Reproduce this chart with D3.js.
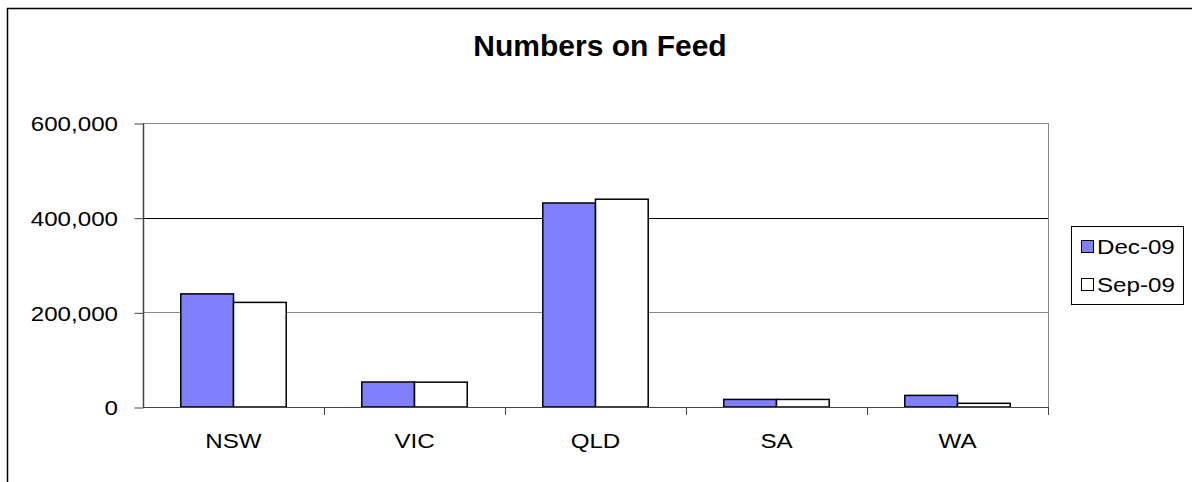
<!DOCTYPE html>
<html><head><meta charset="utf-8">
<script src="https://cdn.jsdelivr.net/npm/d3@7"></script>
<style>
html,body{margin:0;padding:0;background:#fff;overflow:hidden;}
svg{display:block;font-family:"Liberation Sans",Arial,sans-serif;}
</style></head>
<body>
<svg id="chart" width="1192" height="482"></svg>
<script>
const categories = ["NSW", "VIC", "QLD", "SA", "WA"];
const seriesNames = ["Dec-09", "Sep-09"];
const dec09 = [239000, 52800, 431000, 16000, 24500];
const sep09 = [221000, 52500, 439000, 16000, 7800];
const yTicks = [0, 200000, 400000, 600000];
const seriesColors = ["#8080FF", "#FFFFFF"];

const svg = d3.select("#chart");
const plot = {left: 143, right: 1048, top: 123, bottom: 407};
const SX = 1.15; // horizontal stretch of the original's text

// outer chart border: only top and left edges are visible
svg.append("path").attr("d", "M7.5,482V8.5H1192").attr("fill", "none")
  .attr("stroke", "#000").attr("stroke-width", 1.5);

svg.append("text").attr("x", 600).attr("y", 56).attr("text-anchor", "middle")
  .attr("font-size", 30).attr("font-weight", "bold").text("Numbers on Feed");

const y = d3.scaleLinear().domain([0, 600000]).range([plot.bottom, plot.top]);
const x0 = d3.scaleBand().domain(categories).range([plot.left, plot.right]).padding(0);
const x1 = d3.scaleBand().domain(seriesNames).range([0, x0.bandwidth()]).paddingInner(0).paddingOuter(0.717);

// gridlines
svg.append("g").selectAll("line").data(yTicks.filter(d => d > 0)).join("line")
  .attr("x1", plot.left).attr("x2", plot.right)
  .attr("y1", d => Math.round(y(d)) + 0.5).attr("y2", d => Math.round(y(d)) + 0.5)
  .attr("stroke", d => d === 400000 ? "#000" : "#888").attr("stroke-width", 1);

// plot right border
svg.append("line").attr("x1", plot.right + 0.5).attr("x2", plot.right + 0.5)
  .attr("y1", plot.top).attr("y2", plot.bottom).attr("stroke", "#888");

// y axis
const yAxis = d3.axisLeft(y).tickValues(yTicks).tickSize(9).tickPadding(16)
  .tickFormat(d3.format(","));
const gy = svg.append("g").attr("transform", `translate(${plot.left + 0.5},0.5)`).call(yAxis);
gy.select(".domain").attr("stroke", "#444").attr("stroke-width", 1.5).attr("d", `M0,${plot.top}V${plot.bottom}`);
gy.selectAll(".tick line").attr("stroke", "#444");
gy.selectAll(".tick text").attr("font-size", 21).attr("fill", "#000")
  .attr("font-family", "Liberation Sans, Arial, sans-serif").attr("dy", "0.35em")
  .attr("x", 0).attr("transform", `translate(-25.5,0) scale(${SX},1)`);

// bars
const data = categories.map((c, i) => ({cat: c, vals: [dec09[i], sep09[i]]}));
const groups = svg.append("g").selectAll("g").data(data).join("g")
  .attr("transform", d => `translate(${x0(d.cat)},0)`);
groups.selectAll("rect").data(d => d.vals.map((v, j) => ({s: seriesNames[j], v, j}))).join("rect")
  .attr("x", d => x1(d.s)).attr("y", d => y(d.v))
  .attr("width", x1.bandwidth()).attr("height", d => y(0) - y(d.v))
  .attr("fill", d => seriesColors[d.j]).attr("stroke", "#000").attr("stroke-width", 1.5);

// x axis
const xAxis = d3.axisBottom(x0).tickSize(0).tickPadding(26);
const gx = svg.append("g").attr("transform", `translate(0,${plot.bottom + 0.5})`).call(xAxis);
gx.select(".domain").attr("stroke", "#444").attr("stroke-width", 1.2).attr("d", `M${plot.left},0H${plot.right}`);
gx.selectAll(".tick text").attr("font-size", 21).attr("fill", "#000")
  .attr("font-family", "Liberation Sans, Arial, sans-serif")
  .attr("transform", `scale(${SX},1)`);
// category boundary ticks
svg.append("g").selectAll("line").data(categories.slice(1).concat(["__end"])).join("line")
  .attr("x1", d => d === "__end" ? plot.right + 0.5 : Math.round(x0(d)) + 0.5)
  .attr("x2", d => d === "__end" ? plot.right + 0.5 : Math.round(x0(d)) + 0.5)
  .attr("y1", plot.bottom).attr("y2", plot.bottom + 8).attr("stroke", "#444");

// legend
const lg = svg.append("g");
lg.append("rect").attr("x", 1071.5).attr("y", 226.5).attr("width", 112).attr("height", 78)
  .attr("fill", "#fff").attr("stroke", "#000").attr("stroke-width", 1);
seriesNames.forEach((s, i) => {
  const cy = 247 + i * 38;
  lg.append("rect").attr("x", 1081.5).attr("y", cy - 6.5).attr("width", 12).attr("height", 12)
    .attr("fill", seriesColors[i]).attr("stroke", "#000").attr("stroke-width", 1);
  lg.append("text").attr("x", 0).attr("y", 0).attr("dy", "0.35em")
    .attr("transform", `translate(1097,${cy}) scale(${SX},1)`)
    .attr("font-size", 21).text(s);
});
</script>
</body></html>
